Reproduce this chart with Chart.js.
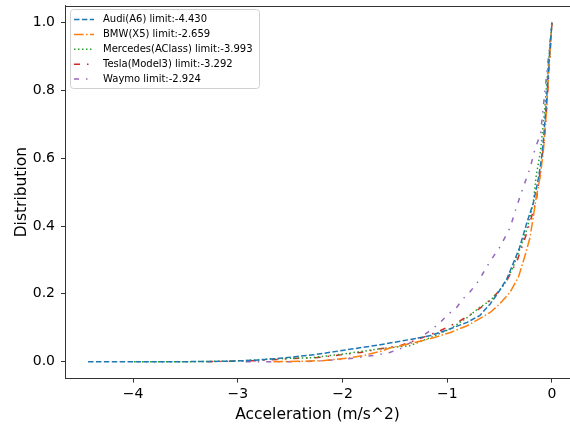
<!DOCTYPE html>
<html>
<head>
<meta charset="utf-8">
<script src="https://cdn.jsdelivr.net/npm/chart.js@4.4.1/dist/chart.umd.min.js"></script>
<style>
html,body{margin:0;padding:0;background:#fff;}
#wrap{width:570px;height:426px;position:relative;}
</style>
</head>
<body>
<div id="wrap"><canvas id="c" width="570" height="426"></canvas></div>
<script>
// ---- data ----
const xTicks = [-4, -3, -2, -1, 0];
const yTicks = [0, 0.2, 0.4, 0.6, 0.8, 1.0];

const seriesNames = ["Audi(A6) limit:-4.430", "BMW(X5) limit:-2.659", "Mercedes(AClass) limit:-3.993", "Tesla(Model3) limit:-3.292", "Waymo limit:-2.924"];

const audiX = [-4.43, -3.5, -3.1, -2.79, -2.6, -2.28, -1.96, -1.64, -1.36, -1.16, -0.97, -0.81, -0.69, -0.59, -0.5, -0.43, -0.37, -0.31, -0.24, -0.18, -0.13, -0.1, -0.08, -0.05, -0.03, 0];
const audiY = [0, 0, 0.001, 0.005, 0.01, 0.02, 0.035, 0.05, 0.065, 0.077, 0.097, 0.116, 0.136, 0.17, 0.21, 0.245, 0.29, 0.336, 0.41, 0.466, 0.54, 0.6, 0.66, 0.78, 0.88, 1.0];

const bmwX = [-2.659, -2.4, -2.19, -1.96, -1.8, -1.64, -1.55, -1.36, -1.16, -0.97, -0.81, -0.69, -0.59, -0.5, -0.4, -0.32, -0.26, -0.21, -0.18, -0.15, -0.11, -0.08, -0.05, -0.03, 0];
const bmwY = [0, 0.001, 0.003, 0.01, 0.018, 0.03, 0.04, 0.053, 0.068, 0.086, 0.106, 0.127, 0.145, 0.17, 0.205, 0.25, 0.31, 0.366, 0.425, 0.485, 0.55, 0.63, 0.75, 0.86, 1.0];

const mercX = [-3.993, -3.4, -3.0, -2.67, -2.28, -1.96, -1.64, -1.36, -1.16, -0.97, -0.81, -0.69, -0.59, -0.5, -0.43, -0.37, -0.31, -0.24, -0.18, -0.15, -0.11, -0.07, -0.04, 0];
const mercY = [0, 0, 0.002, 0.008, 0.012, 0.024, 0.038, 0.047, 0.071, 0.097, 0.13, 0.16, 0.18, 0.21, 0.24, 0.28, 0.33, 0.39, 0.466, 0.55, 0.62, 0.74, 0.86, 1.0];

const teslaX = [-3.292, -2.8, -2.47, -2.24, -2.02, -1.83, -1.64, -1.45, -1.26, -1.07, -0.88, -0.72, -0.62, -0.53, -0.43, -0.33, -0.24, -0.15, -0.07, -0.04, 0];
const teslaY = [0, 0.003, 0.009, 0.012, 0.02, 0.027, 0.038, 0.047, 0.068, 0.091, 0.12, 0.15, 0.174, 0.2, 0.24, 0.3, 0.38, 0.475, 0.66, 0.8, 1.0];

const waymoX = [-2.924, -2.5, -2.28, -2.09, -1.9, -1.67, -1.55, -1.45, -1.29, -1.23, -1.14, -1.07, -0.99, -0.91, -0.85, -0.78, -0.72, -0.66, -0.61, -0.56, -0.5, -0.45, -0.4, -0.34, -0.28, -0.21, -0.16, -0.11, -0.04, 0];
const waymoY = [0, 0, 0.001, 0.005, 0.01, 0.02, 0.027, 0.038, 0.068, 0.077, 0.097, 0.115, 0.14, 0.16, 0.185, 0.207, 0.23, 0.26, 0.286, 0.31, 0.337, 0.366, 0.395, 0.455, 0.51, 0.57, 0.63, 0.67, 0.88, 1.0];

// ---- styles ----
const colors = ["#1f77b4", "#ff7f0e", "#2ca02c", "#d62728", "#9467bd"];
const dashes = [[5.5, 2.4], [9.6, 2.4, 1.5, 2.4], [1.5, 2.5], [6, 7, 1.5, 7], [5, 7, 1.5, 7]];
const allX = [audiX, bmwX, mercX, teslaX, waymoX];
const allY = [audiY, bmwY, mercY, teslaY, waymoY];

const FONT = "'DejaVu Sans', 'Liberation Sans', sans-serif";

const datasets = seriesNames.map((name, i) => ({
  label: name,
  data: allX[i].map((x, k) => ({x: x, y: allY[i][k]})),
  borderColor: colors[i],
  backgroundColor: colors[i],
  borderWidth: 1.5,
  borderDash: dashes[i],
  pointRadius: 0,
  showLine: true,
  tension: 0,
  fill: false
}));

const frame = {
  id: 'frame',
  afterDatasetsDraw(chart) {
    const ctx = chart.ctx, a = chart.chartArea;
    ctx.save();
    ctx.strokeStyle = '#333';
    ctx.lineWidth = 1;
    ctx.beginPath();
    ctx.moveTo(a.left, Math.round(a.top) + 0.5);
    ctx.lineTo(a.right, Math.round(a.top) + 0.5);
    ctx.stroke();
    // legend
    const bx = 70.5, by = 9.5, bw = 189, bh = 79;
    ctx.fillStyle = 'rgba(255,255,255,0.8)';
    ctx.strokeStyle = '#d0d0d0';
    ctx.beginPath();
    if (ctx.roundRect) ctx.roundRect(bx, by, bw, bh, 3); else ctx.rect(bx, by, bw, bh);
    ctx.fill();
    ctx.stroke();
    ctx.font = '10px ' + FONT;
    ctx.textBaseline = 'middle';
    chart.data.datasets.forEach((ds, i) => {
      const y = 19.5 + i * 14.9;
      ctx.strokeStyle = ds.borderColor;
      ctx.lineWidth = 1.5;
      ctx.setLineDash(ds.borderDash);
      ctx.beginPath();
      ctx.moveTo(74, y);
      ctx.lineTo(94, y);
      ctx.stroke();
      ctx.setLineDash([]);
      ctx.fillStyle = '#000';
      ctx.fillText(ds.label, 103, y);
    });
    ctx.restore();
  }
};

new Chart(document.getElementById('c'), {
  type: 'scatter',
  data: { datasets },
  options: {
    responsive: false,
    animation: false,
    devicePixelRatio: 1,
    layout: { padding: { top: 5.7, right: 0, left: 0, bottom: 0 } },
    plugins: { legend: { display: false }, tooltip: { enabled: false } },
    scales: {
      x: {
        type: 'linear',
        min: -4.65,
        max: 0.172,
        afterFit(s) { s.height = 47.4; s.paddingLeft = 0; s.paddingRight = 0; },
        afterBuildTicks(s) { s.ticks = xTicks.map(v => ({value: v})); },
        grid: { drawOnChartArea: false, drawTicks: true, tickLength: 4, color: '#333', tickColor: '#333' },
        border: { display: true, color: '#333', width: 1 },
        ticks: {
          color: '#000', padding: 3,
          font: { family: FONT, size: 14 },
          maxRotation: 0,
          callback: v => (v < 0 ? '\u2212' + Math.abs(v) : String(v))
        },
        title: { display: true, text: 'Acceleration (m/s^2)', color: '#000', font: { family: FONT, size: 15.5 }, padding: { top: 0, bottom: 2 } }
      },
      y: {
        type: 'linear',
        min: -0.05,
        max: 1.05,
        afterFit(s) { s.width = 65; s.paddingTop = 0; s.paddingBottom = 0; },
        afterBuildTicks(s) { s.ticks = yTicks.map(v => ({value: v})); },
        grid: { drawOnChartArea: false, drawTicks: true, tickLength: 4, color: '#333', tickColor: '#333' },
        border: { display: true, color: '#333', width: 1 },
        ticks: {
          color: '#000', padding: 6,
          font: { family: FONT, size: 14 },
          callback: v => v.toFixed(1)
        },
        title: { display: true, text: 'Distribution', color: '#000', font: { family: FONT, size: 15.5 }, padding: { top: 13, bottom: 0 } }
      }
    }
  },
  plugins: [frame]
});
</script>
</body>
</html>
